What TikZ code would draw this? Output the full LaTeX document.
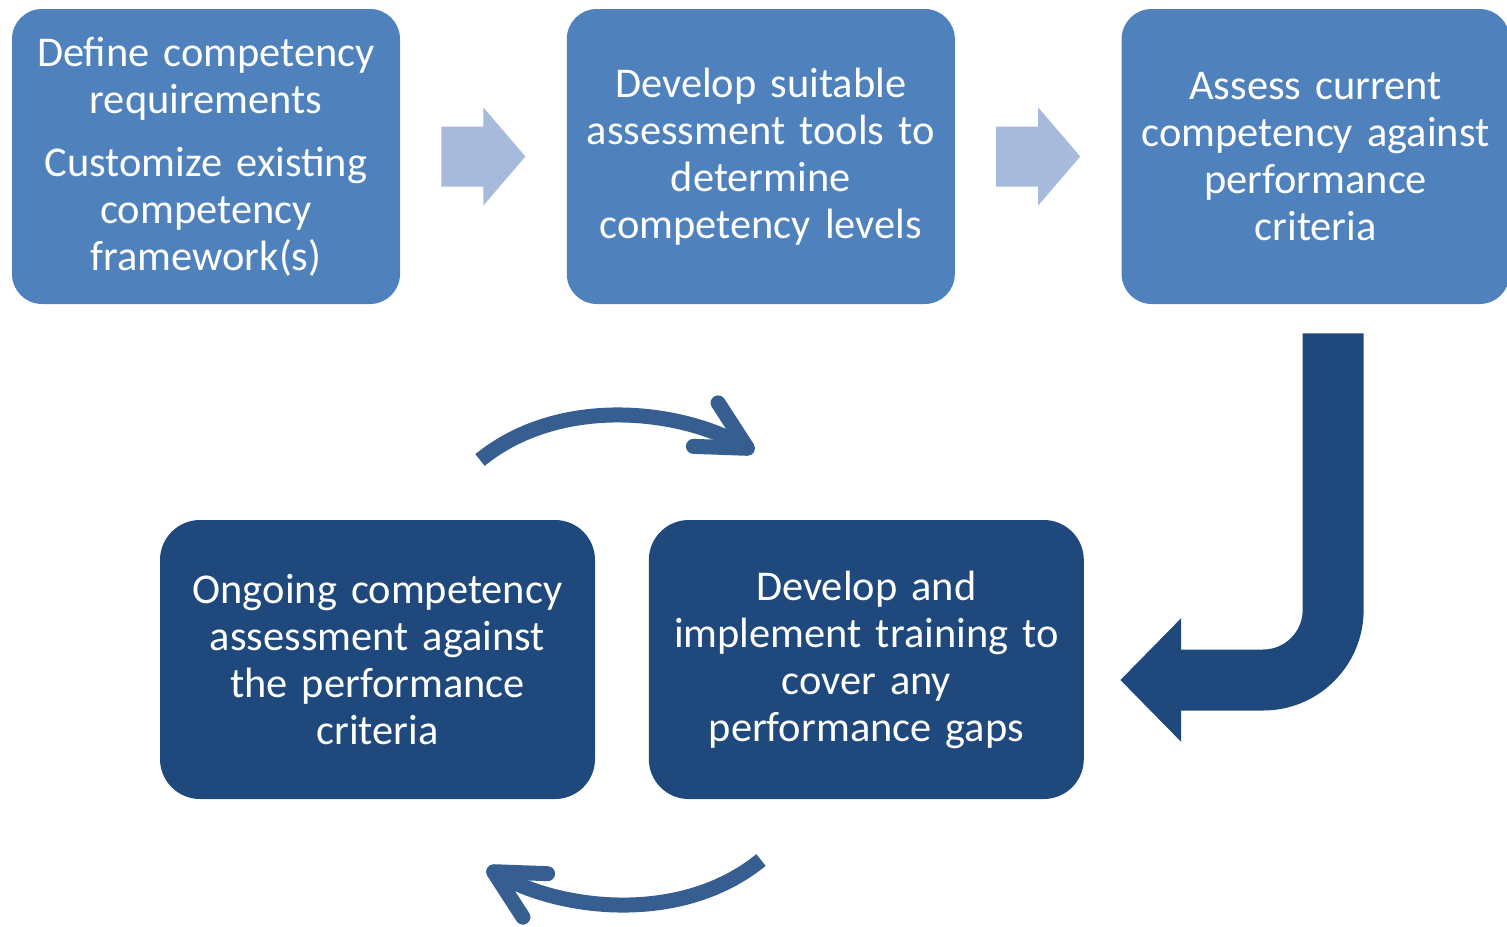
\documentclass[tikz,border=0pt]{standalone}
\usepackage{fontspec}
\setmainfont{Carlito}
\usepackage{tikz}
\usetikzlibrary{arrows.meta, positioning, calc}
\definecolor{stepblue}{RGB}{79,129,189}
\definecolor{darkblue}{RGB}{31,73,125}
\definecolor{paleblue}{RGB}{167,186,219}
\definecolor{loopblue}{RGB}{54,94,145}

\tikzset{
  topbox/.style={fill=stepblue, rounded corners=15pt, minimum width=194pt, minimum height=147.5pt, text width=188pt, align=center, text=white, inner sep=0pt, font=\fontsize{21.2}{23.5}\selectfont},
  lowbox/.style={topbox, fill=darkblue, rounded corners=20pt, minimum width=217.5pt, minimum height=139.5pt, text width=210pt},
  chevron/.style={fill=paleblue},
  cyclearrow/.style={draw=loopblue, line width=7.5pt, -{Straight Barb[length=24pt, width=25pt, line cap=round, line join=round]}},
  bigarrow/.style={draw=darkblue, line width=30.5pt, rounded corners=35pt, -{Triangle[length=30.5pt, width=60pt]}}
}

\begin{document}
\begin{tikzpicture}[x=0.5pt, y=-0.5pt]
  \useasboundingbox (0,0) rectangle (1507,926);

  % Top row of steps
  \node[topbox] (define) at (206,156.5) {Define competency\\requirements\\[8pt]Customize existing\\competency\\framework(s)};
  \node[topbox, right=83pt of define] (suitable) {Develop suitable\\assessment tools to\\determine\\competency levels};
  \node[topbox, right=83pt of suitable] (assess) {Assess current\\competency against\\performance\\criteria};

  % Bottom pair
  \node[lowbox] (ongoing) at (377.5,659.5) {Ongoing competency\\assessment against\\the performance\\criteria};
  \node[lowbox, right=26.5pt of ongoing] (training) {Develop and\\implement training to\\cover any\\performance gaps};

  % Chevrons between top boxes
  \foreach \a/\b in {define/suitable, suitable/assess}
    \fill[chevron, shift={($(\a.east)!0.5!(\b.west)$)}] (-42,-30) -- (0,-30) -- (0,-49) -- (42,0) -- (0,49) -- (0,30) -- (-42,30) -- cycle;

  % Down into the cycle
  \draw[bigarrow] ($(assess.south)+(17.5,29)$) |- ($(training.east)+(36,20.5)$);

  % Cycle arrows
  \draw[cyclearrow] (480,460) .. controls (560,395) and (680,410) .. (754,452);
  \draw[cyclearrow] (761,860) .. controls (681,925) and (561,910) .. (487,868);
\end{tikzpicture}
\end{document}
